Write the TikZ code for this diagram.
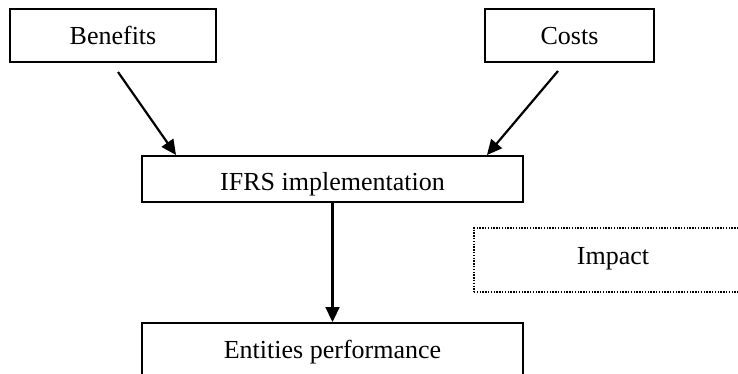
\documentclass[tikz,border=0pt]{standalone}
\usepackage{fontspec}
\setmainfont{Liberation Serif}
\usepackage{tikz}
\usetikzlibrary{arrows.meta,positioning,calc}

\tikzset{
  box/.style={draw,line width=2pt,text height=17pt,text depth=0pt,inner sep=0pt,
              font=\fontsize{26}{30}\selectfont},
  dotbox/.style={box,line width=1.6pt,dash pattern=on 1.4pt off 1.4pt},
  arr/.style={line width=2.2pt,-{Triangle[length=15pt,width=14pt]}}
}

\begin{document}
\begin{tikzpicture}[x=1pt,y=-1pt]
  \useasboundingbox (0,0) rectangle (738,373);
  \clip (0,0) rectangle (738,373);

  % --- boxes ---
  \node[box,minimum width=206pt,minimum height=53pt] (benefits) at (113,35.5) {Benefits};
  \node[box,minimum width=169pt,minimum height=53pt] (costs) at (569.5,35.5) {Costs};
  \node[box,text height=22pt,minimum width=381pt,minimum height=46pt] (ifrs) at (332.5,179) {IFRS implementation};
  \node[box,minimum width=381pt,minimum height=54pt] (entities) at (332.5,350) {Entities performance};
  \node[dotbox,text height=8pt,minimum width=278pt,minimum height=64pt] (impact) at (613,260) {Impact};

  % --- arrows into and out of the implementation box ---
  \draw[arr] ([xshift=5pt,yshift=-9pt]benefits.south) -- ([xshift=35pt]ifrs.north west);
  \draw[arr] ([xshift=-11.5pt,yshift=-8pt]costs.south) -- ([xshift=-37pt]ifrs.north east);
  \draw[arr] (ifrs.south) -- (entities.north);
\end{tikzpicture}
\end{document}
